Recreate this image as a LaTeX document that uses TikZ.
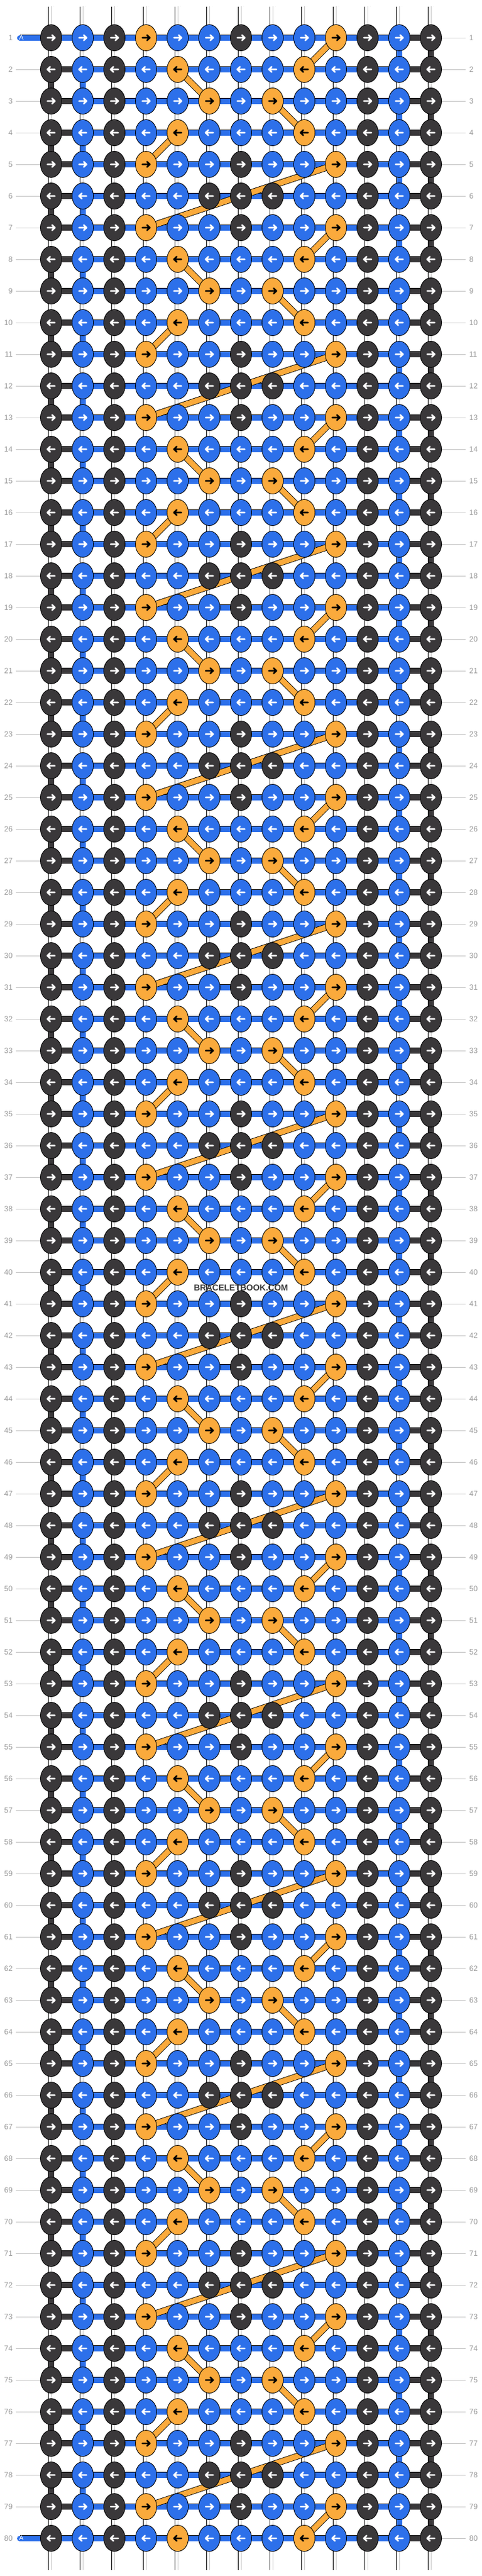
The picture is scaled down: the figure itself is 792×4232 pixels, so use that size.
\documentclass[tikz,border=0pt]{standalone}
\usepackage{fontspec}
\setmainfont{Liberation Sans}
\usetikzlibrary{shapes.geometric,backgrounds}
\definecolor{xanh}{HTML}{2D70EA}
\definecolor{den}{HTML}{3A383A}
\definecolor{cam}{HTML}{FAAA3C}
\definecolor{so}{HTML}{9A9A9A}
\definecolor{vach}{HTML}{C2C2C2}
\begin{document}
\begin{tikzpicture}[x=1pt,y=-1pt,line join=round,
	nut/.style={ellipse,draw=black,line width=0.9pt,minimum width=35pt,minimum height=43pt,inner sep=0pt},
	kb/.style={nut,fill=xanh},
	kd/.style={nut,fill=den},
	ko/.style={nut,fill=cam},
	muiten/.style={line width=2.6pt,line cap=round,line join=round},
	bd/.style={preaction={draw=black,line width=10.8pt},draw=den,line width=9pt},
	bb/.style={preaction={draw=black,line width=10.8pt},draw=xanh,line width=9pt},
	bo/.style={preaction={draw=black,line width=10.8pt},draw=cam,line width=9pt},
	bw/.style={preaction={draw=black,line width=10.8pt},preaction={draw=white,line width=9pt},draw=black!22,line width=0.8pt},
	sotrai/.style={anchor=east,inner xsep=5pt,inner ysep=0pt,text=so,font=\fontsize{12.5}{15}\selectfont},
	sophai/.style={anchor=west,inner xsep=6pt,inner ysep=0pt,text=so,font=\fontsize{12.5}{15}\selectfont},
	chuA/.style={inner sep=0pt,text=white,font=\fontsize{11}{13}\selectfont},
	vachso/.style={draw=vach,line width=1pt}]
	\useasboundingbox (0,0) rectangle (792,4232);
	%Nút
	\foreach \hg in {1,...,80}{
		\pgfmathtruncatemacro\kieu{mod(\hg-1,6)}
		\ifcase\kieu \def\hangnut{d,b,d,o,b,b,d,b,b,o,d,b,d}\def\trang{0,1,2,4,5,6,7,8,10,11,12}\def\camc{3,9}%
		\or \def\hangnut{d,b,d,b,o,b,b,b,o,b,d,b,d}\def\trang{0,1,2,3,5,6,7,9,10,11,12}\def\camc{4,8}%
		\or \def\hangnut{d,b,d,b,b,o,b,o,b,b,d,b,d}\def\trang{0,1,2,3,4,6,8,9,10,11,12}\def\camc{5,7}%
		\or \def\hangnut{d,b,d,b,o,b,b,b,o,b,d,b,d}\def\trang{0,1,2,3,5,6,7,9,10,11,12}\def\camc{4,8}%
		\or \def\hangnut{d,b,d,o,b,b,d,b,b,o,d,b,d}\def\trang{0,1,2,4,5,6,7,8,10,11,12}\def\camc{3,9}%
		\else \def\hangnut{d,b,d,b,b,d,d,d,b,b,d,b,d}\def\trang{0,1,2,3,4,5,6,7,8,9,10,11,12}\def\camc{}%
		\fi
		\ifodd\hg \def\sg{1}\else \def\sg{-1}\fi
		\pgfmathsetmacro\yy{10+52*\hg}
		\foreach \mau [count=\ct from 0] in \hangnut
			\path (84+52*\ct,\yy) node[k\mau] (k\hg-\ct) {};
		%Mũi tên
		\draw[muiten,white] \foreach \ct in \trang {({84+52*\ct-(\sg)*6.2},\yy) -- ({84+52*\ct+(\sg)*6.2},\yy)
			({84+52*\ct+(\sg)*1.6},\yy-4.4) -- ({84+52*\ct+(\sg)*6.2},\yy) -- ({84+52*\ct+(\sg)*1.6},\yy+4.4)};
		\ifnum\kieu<5
		\draw[muiten,black] \foreach \ct in \camc {({84+52*\ct-(\sg)*6.2},\yy) -- ({84+52*\ct+(\sg)*6.2},\yy)
			({84+52*\ct+(\sg)*1.6},\yy-4.4) -- ({84+52*\ct+(\sg)*6.2},\yy) -- ({84+52*\ct+(\sg)*1.6},\yy+4.4)};
		\fi
		\path (26,\yy) node[sotrai] (sl\hg) {\hg}
			(765,\yy) node[sophai] (sr\hg) {\hg};
	}
	\begin{scope}[on background layer]
		%Dây dọc
		\foreach \ct in {0,...,12}{
			\coordinate (t\ct) at (84+52*\ct,10.5);
			\coordinate (d\ct) at (84+52*\ct,4221.5);
			\draw[bw,line cap=round] (t\ct) -- (d\ct);
		}
		\draw[bd] \foreach \hg [evaluate=\hg as \hs using int(\hg+1)] in {2,4,...,78}{(k\hg-0.center) -- (k\hs-0.center)};
		\draw[bb] \foreach \hg [evaluate=\hg as \hs using int(\hg+1)] in {2,4,...,78}{(k\hg-1.center) -- (k\hs-1.center)};
		\draw[bb] \foreach \hg [evaluate=\hg as \hs using int(\hg+1)] in {1,3,...,79}{(k\hg-11.center) -- (k\hs-11.center)};
		\draw[bd] \foreach \hg [evaluate=\hg as \hs using int(\hg+1)] in {1,3,...,79}{(k\hg-12.center) -- (k\hs-12.center)};
		%Dây ngang
		\draw[bb] \foreach \hg in {1,...,80}{(k\hg-0.center) -- (k\hg-12.center)};
		\draw[bd] \foreach \hg in {2,...,79}{(k\hg-0.center) -- (k\hg-1.center)};
		\draw[bd] \foreach \hg in {1,...,80}{(k\hg-11.center) -- (k\hg-12.center)};
		%Vạch số
		\draw[vachso] \foreach \hg in {2,...,79}{(sl\hg) -- (k\hg-0)};
		\draw[vachso] \foreach \hg in {1,...,80}{(k\hg-12) -- (sr\hg)};
		%Dây A
		\coordinate (a1) at (32.5,62);
		\coordinate (a80) at (32.5,4170);
		\draw[bb,line cap=round] (a1) -- (k1-0.center) (a80) -- (k80-0.center);
		%Dây cam
		\draw[bo] \foreach \m in {0,...,12}{
			\foreach \ha/\ca/\hb/\cz [evaluate=\ha as \hx using int(6*\m+\ha), evaluate=\hb as \hy using int(6*\m+\hb)]
				in {1/9/2/8,2/4/3/5,3/7/4/8,4/4/5/3,5/9/7/3}{(k\hx-\ca.center) -- (k\hy-\cz.center)}}
			(k79-9.center) -- (k80-8.center);
	\end{scope}
	\path (35,62) node[chuA] (A1) {A}
		(35,4170) node[chuA] (A80) {A};
	\node[font=\bfseries\fontsize{14}{16}\selectfont,text=black!78,inner sep=0pt] (web) at (396,2116) {BRACELETBOOK.COM};
\end{tikzpicture}
\end{document}
